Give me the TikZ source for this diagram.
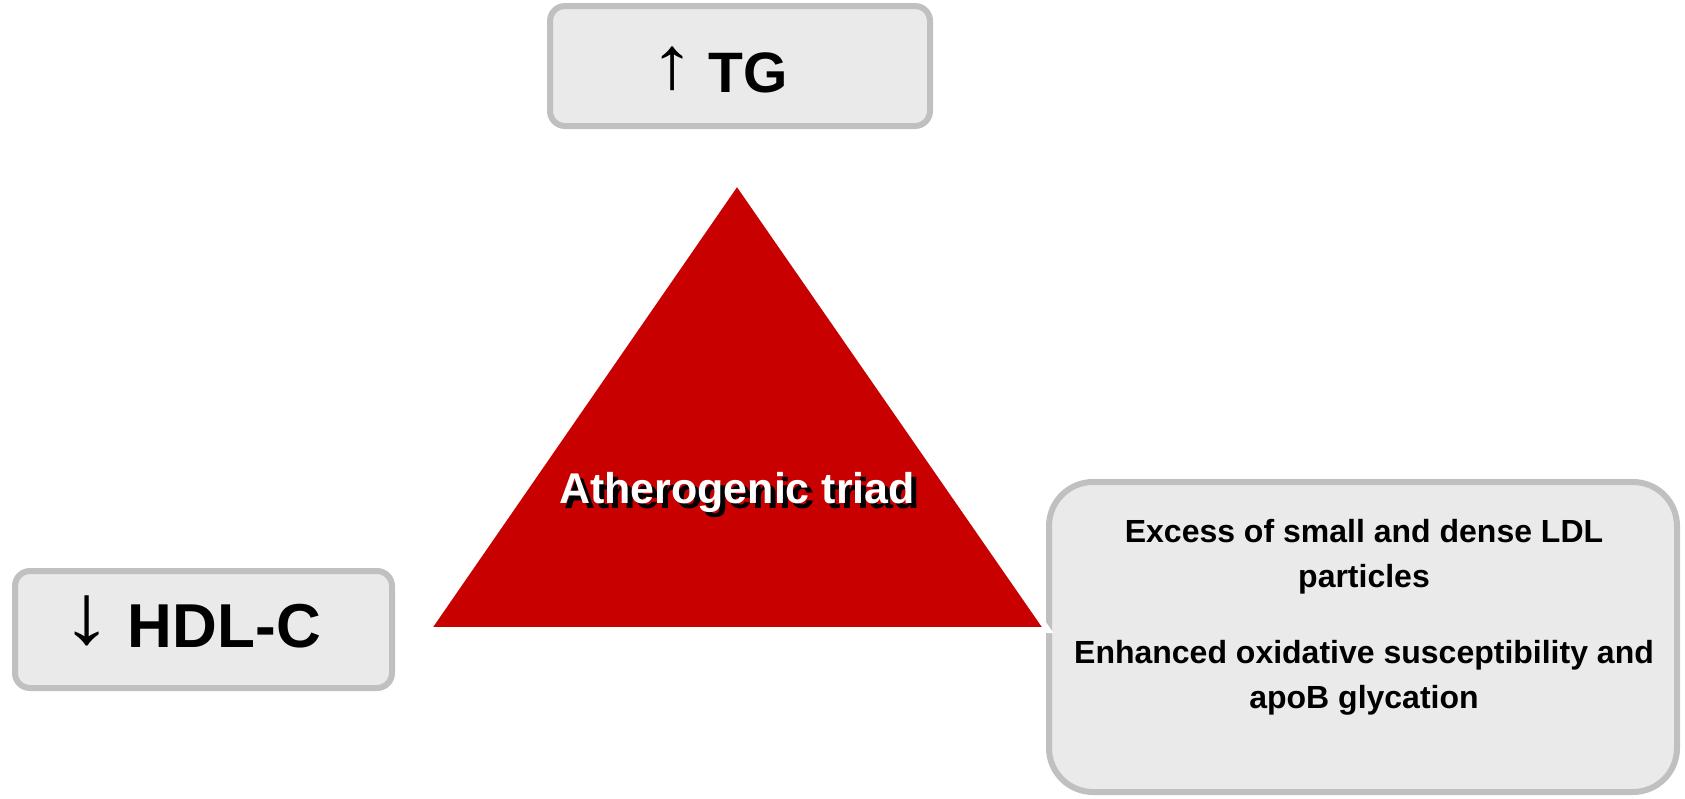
\documentclass[tikz,border=0pt]{standalone}
\usepackage{fontspec}
\setmainfont{Liberation Sans}
\definecolor{trired}{RGB}{200,0,0}
\definecolor{boxfill}{RGB}{234,234,234}
\definecolor{boxline}{RGB}{192,192,192}
\begin{document}
\begin{tikzpicture}[x=1pt,y=-1pt,
  graybox/.style={draw=boxline, fill=boxfill, line width=6pt, inner sep=0pt},
  bigtxt/.style={anchor=base east, inner sep=0pt, font=\bfseries},
  smalltxt/.style={anchor=north, inner sep=0pt, align=center, font=\bfseries\fontsize{32}{45.5}\selectfont}
]
\useasboundingbox (0,0) rectangle (1685,798);
% boxes
\node[graybox, rounded corners=15pt, minimum width=380pt, minimum height=120pt] (tgbox) at (740,66) {};
\node[graybox, rounded corners=15pt, minimum width=377pt, minimum height=117pt] (hdlbox) at (203.5,629.5) {};
\node[graybox, rounded corners=44pt, minimum width=628pt, minimum height=310pt] (ldlbox) at (1363,637) {};
% triangle
\coordinate (apex) at (737,181.7);
\coordinate (br) at (1047.7,630);
\coordinate (bl) at (427.3,630);
\filldraw[fill=trired, draw=white, line width=6pt] (apex) -- (br) -- (bl) -- cycle;
% texts
\node[bigtxt, font=\bfseries\fontsize{57}{60}\selectfont] (tg) at (788,92) {{\mdseries\raisebox{3.4pt}{\scalebox{1.55}[1.3]{↑}}}\hspace{-2pt} TG};
\node[bigtxt, font=\bfseries\fontsize{62}{66}\selectfont] (hdl) at (321,647) {{\mdseries\raisebox{4pt}{\scalebox{1.65}[1.37]{↓}}}\hspace{-2pt} HDL-C};
\node[anchor=base, inner sep=0pt, font=\bfseries\fontsize{43}{46}\selectfont, text=black] (triadshadow) at (742,508) {Atherogenic triad};
\node[anchor=base, inner sep=0pt, font=\bfseries\fontsize{43}{46}\selectfont, text=white] (triad) at (737,503) {Atherogenic triad};
\node[smalltxt] (ldl1) at (1364,519) {Excess of small and dense LDL\\particles};
\node[smalltxt] (ldl2) at (1364,640) {Enhanced oxidative susceptibility and\\apoB glycation};
\end{tikzpicture}
\end{document}
